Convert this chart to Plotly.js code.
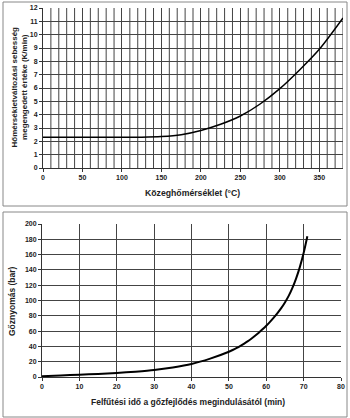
<!DOCTYPE html>
<html><head><meta charset="utf-8">
<script src="https://cdn.plot.ly/plotly-3.0.1.min.js"></script>
<style>html,body{margin:0;padding:0;background:#fff}#c{width:350px;height:418px}</style>
</head><body><div id="c"></div>
<script>
// Top chart: allowed rate of temperature change vs medium temperature
const tempC = [0, 25, 50, 75, 100, 125, 150, 175, 200, 225, 250, 275, 300, 325, 350, 380];
const rateKmin = [2.3, 2.3, 2.3, 2.3, 2.3, 2.31, 2.36, 2.5, 2.82, 3.28, 3.9, 4.8, 5.95, 7.35, 8.9, 11.25];
// Bottom chart: steam pressure vs heating time
const timeMin = [0, 5, 10, 15, 20, 25, 30, 35, 40, 45, 50, 51, 52, 53, 54, 55, 56, 57, 58, 59, 60, 61, 62, 63, 64, 65, 66, 67, 68, 69, 70, 71];
const pressureBar = [1, 2, 3, 4, 5.2, 7, 9.2, 12.5, 17, 24, 33, 35.3, 37.8, 40.5, 43.4, 46.5, 50, 53.8, 57.9, 62.3, 67, 72, 77.5, 83.5, 90, 97.5, 106, 116.5, 129, 144, 162, 184];

const W = 350, H = 418;
const px = x => x / W, py = y => 1 - y / H;
const FF = 'Liberation Sans, Arial, sans-serif';
const tickFont = {family: FF, size: 7, color: '#222', weight: 'bold'};
const grid = '#444';

const traces = [
  {x: tempC, y: rateKmin, type: 'scatter', mode: 'lines', line: {color: '#000', width: 1.5, shape: 'spline', smoothing: 0.8}, xaxis: 'x', yaxis: 'y', hoverinfo: 'skip'},
  {x: timeMin, y: pressureBar, type: 'scatter', mode: 'lines', line: {color: '#000', width: 2, shape: 'spline', smoothing: 0.6}, xaxis: 'x2', yaxis: 'y2', hoverinfo: 'skip'}
];

const axisCommon = {showline: true, linecolor: '#333', linewidth: 1, gridcolor: grid, gridwidth: 1, zeroline: false, ticks: 'outside', ticklen: 3, tickcolor: '#333', tickfont: tickFont, fixedrange: true};

const layout = {
  width: W, height: H, margin: {l: 0, r: 0, t: 0, b: 0}, showlegend: false,
  paper_bgcolor: '#fff', plot_bgcolor: '#fff',
  xaxis: Object.assign({}, axisCommon, {domain: [px(43), px(343)], range: [0, 380], tickvals: [0,50,100,150,200,250,300,350], anchor: 'y'}),
  yaxis: Object.assign({}, axisCommon, {domain: [py(168), py(8)], range: [0, 12], dtick: 1, anchor: 'x'}),
  xaxis2: Object.assign({}, axisCommon, {domain: [px(42), px(341)], range: [0, 80], dtick: 10, anchor: 'y2'}),
  yaxis2: Object.assign({}, axisCommon, {domain: [py(377), py(224)], range: [0, 200], dtick: 20, anchor: 'x2'}),
  shapes: [
    {type: 'rect', xref: 'paper', yref: 'paper', x0: px(3), x1: px(347), y0: py(206), y1: py(2), line: {color: '#888', width: 1}},
    {type: 'rect', xref: 'paper', yref: 'paper', x0: px(3), x1: px(347), y0: py(417), y1: py(212), line: {color: '#888', width: 1}}
  ].concat(
    // vertical gridlines every 10 on top chart between labeled ticks
    Array.from({length: 38}, (_, i) => (i + 1) * 10).filter(v => v % 50 !== 0).map(v => ({type: 'line', xref: 'x', yref: 'paper', x0: v, x1: v, y0: py(168), y1: py(8), line: {color: grid, width: 1}, layer: 'below'}))
  ),
  annotations: [
    {text: 'Hőmérsékletváltozási sebesség<br>megengedett értéke (K/min)', xref: 'paper', yref: 'paper', x: px(18.5), y: py(87), textangle: -90, showarrow: false, font: {family: FF, size: 8, color: '#222', weight: 'bold'}, xanchor: 'center', yanchor: 'middle'},
    {text: 'Közeghőmérséklet (°C)', xref: 'paper', yref: 'paper', x: px(193), y: py(193), showarrow: false, font: {family: FF, size: 8.7, color: '#222', weight: 'bold'}, xanchor: 'center', yanchor: 'middle'},
    {text: 'Gőznyomás (bar)', xref: 'paper', yref: 'paper', x: px(12), y: py(301), textangle: -90, showarrow: false, font: {family: FF, size: 8.5, color: '#222', weight: 'bold'}, xanchor: 'center', yanchor: 'middle'},
    {text: 'Felfűtési idő a gőzfejlődés megindulásától (min)', xref: 'paper', yref: 'paper', x: px(188), y: py(402), showarrow: false, font: {family: FF, size: 8.5, color: '#222', weight: 'bold'}, xanchor: 'center', yanchor: 'middle'}
  ]
};

Plotly.newPlot('c', traces, layout, {displayModeBar: false, staticPlot: true});
</script></body></html>
